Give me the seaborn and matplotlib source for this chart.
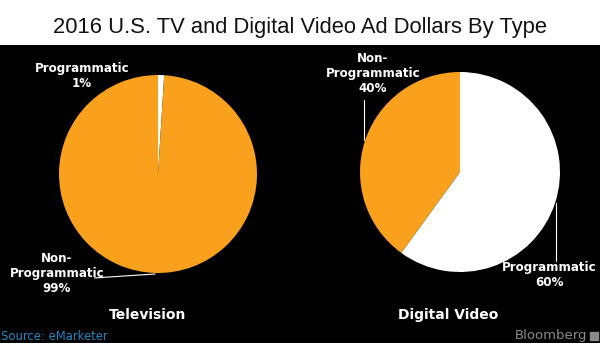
import matplotlib
matplotlib.use("Agg")
import matplotlib.pyplot as plt
import seaborn as sns

sns.set_style("dark")
plt.rcParams['font.family'] = ['DejaVu Sans']

title = "2016 U.S. TV and Digital Video Ad Dollars By Type"
categories = ["Programmatic", "Non-Programmatic"]
tv_values = [1, 99]
dv_values = [60, 40]
panel_titles = ["Television", "Digital Video"]
colors = ["#ffffff", "#f9a11c"]

W, H = 600, 343
fig = plt.figure(figsize=(W / 100, H / 100), dpi=100)
fig.patch.set_facecolor("white")

# black panel
bg = fig.add_axes([0, 0, 1, 1 - 45 / H])
bg.set_facecolor("black")
bg.set_xticks([]); bg.set_yticks([])
for s in bg.spines.values():
    s.set_visible(False)

fig.text(0.5, 1 - 27 / H, title, ha="center", va="center",
         fontsize=15.8, family="Liberation Sans", color="#111111")


def pie_axes(cx, cy, r):
    ax = fig.add_axes([(cx - r) / W, 1 - (cy + r) / H, 2 * r / W, 2 * r / H])
    ax.axis("off")
    return ax


def fix(ax):
    ax.set_xlim(-1, 1); ax.set_ylim(-1, 1)
    ax.set_aspect("equal")


lab_kw = dict(ha="center", va="center", color="white", fontsize=8.6,
              fontweight="bold", linespacing=1.2)

# Television
ax1 = pie_axes(158, 174, 99)
ax1.pie(tv_values, colors=colors, startangle=90, counterclock=False,
        radius=1, wedgeprops=dict(linewidth=0))
fix(ax1)
ax1.text(-0.77, 0.99, f"{categories[0]}\n{tv_values[0]}%", **lab_kw)
ax1.text(-1.02, -1.0, f"Non-\nProgrammatic\n{tv_values[1]}%", **lab_kw)
ax1.plot([-0.64, -0.03], [-1.05, -1.01], color="white", lw=0.8, clip_on=False)
ax1.text(-0.11, -1.42, panel_titles[0], ha="center", va="center",
         color="white", fontsize=10, fontweight="bold")

# Digital video
ax2 = pie_axes(460, 172, 100)
ax2.pie(dv_values, colors=colors, startangle=90, counterclock=False,
        radius=1, wedgeprops=dict(linewidth=0))
fix(ax2)
ax2.text(-0.87, 0.99, f"Non-\nProgrammatic\n{dv_values[1]}%", **lab_kw)
ax2.plot([-0.96, -0.96], [0.72, 0.32], color="white", lw=0.8, clip_on=False)
ax2.text(0.89, -1.03, f"{categories[0]}\n{dv_values[0]}%", **lab_kw)
ax2.plot([0.96, 0.96], [-0.31, -0.89], color="white", lw=0.8, clip_on=False)
ax2.text(-0.12, -1.43, panel_titles[1], ha="center", va="center",
         color="white", fontsize=10, fontweight="bold")

fig.text(1 / W, 1 - 336 / H, "Source: eMarketer", ha="left", va="center",
         color="#1e87c0", fontsize=8.4)
fig.text(587 / W, 1 - 335 / H, "Bloomberg", ha="right", va="center",
         color="#8a8a8a", fontsize=9.5)
fig.patches.append(plt.Rectangle((590 / W, 1 - 340 / H), 8 / W, 8 / H,
                                 transform=fig.transFigure, color="#8a8a8a"))

fig.savefig("out.png", dpi=100, facecolor=fig.get_facecolor())
